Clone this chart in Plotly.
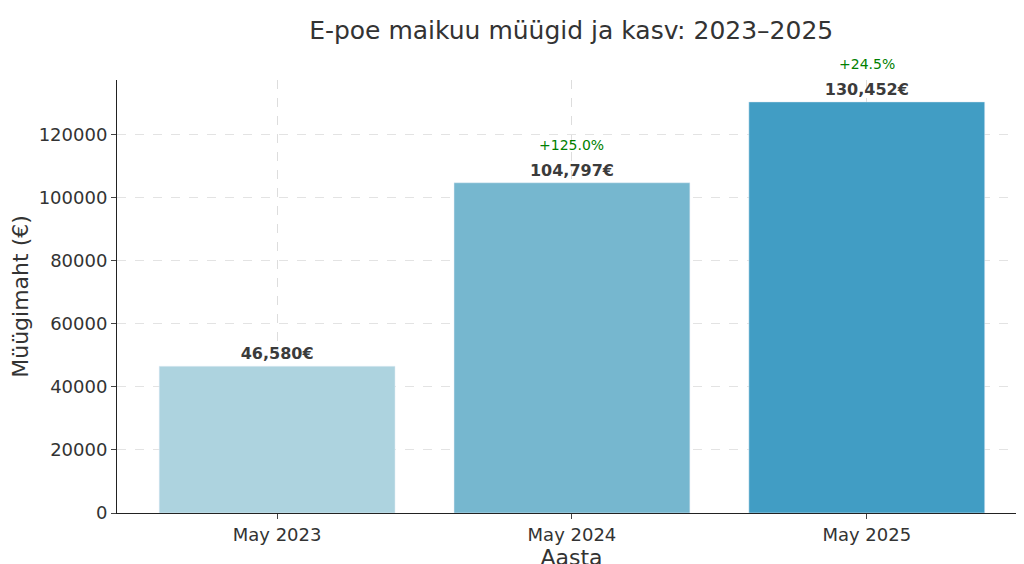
import plotly.graph_objects as go

months = ["May 2023", "May 2024", "May 2025"]
sales = [46580, 104797, 130452]
growth = ["", "+125.0%", "+24.5%"]
colors = ["#add3df", "#76b7cf", "#419dc4"]

fig = go.Figure()
fig.add_trace(go.Bar(x=months, y=sales, marker_color=colors, width=0.8,
                     text=[f"<b>{v:,}€</b>" for v in sales], textposition="outside",
                     textfont=dict(size=16, color="#3b3b3b"),
                     cliponaxis=False))
for m, v, g in zip(months, sales, growth):
    if g:
        fig.add_annotation(x=m, y=v, text=g, showarrow=False, yshift=38,
                           font=dict(size=14, color="green"))

fig.update_layout(
    width=1024, height=564, plot_bgcolor="white", paper_bgcolor="white",
    font=dict(family="DejaVu Sans", size=18, color="#333"),
    title=dict(text="E-poe maikuu müügid ja kasv: 2023–2025", x=0.55, y=0.96,
               yanchor="middle", font=dict(size=25, color="#333")),
    margin=dict(l=109, r=6, t=72, b=56), showlegend=False, bargap=0.2,
)
fig.update_xaxes(title=dict(text="Aasta", standoff=6), range=[-0.543, 2.54],
                 showline=True, linecolor="#222", ticks="outside", ticklen=5,
                 tickfont=dict(size=18), showgrid=True, gridcolor="#ddd", griddash="dash")
fig.update_yaxes(title=dict(text="Müügimaht (€)", standoff=8), range=[0, 137400],
                 dtick=20000, tickformat="d", showline=True, linecolor="#222",
                 ticks="outside", ticklen=5, tickfont=dict(size=18), showgrid=True,
                 gridcolor="#e3e3e3", griddash="dash", zeroline=False)
fig.write_html("out.html")
